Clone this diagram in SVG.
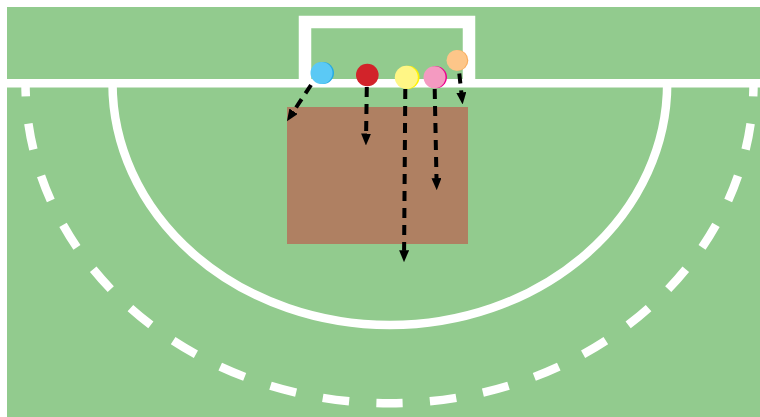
<svg xmlns="http://www.w3.org/2000/svg" width="760" height="417" viewBox="0 0 760 417">
  <style>
    .line { fill: none; stroke: #ffffff; }
    .conn { fill: none; stroke: #000000; stroke-width: 4; stroke-dasharray: 10 7; marker-end: url(#head); }
  </style>
  <defs>
    <marker id="head" viewBox="0 0 12 10" markerUnits="userSpaceOnUse" markerWidth="12" markerHeight="10" refX="0.5" refY="5" orient="auto">
      <path d="M0,0 L12,5 L0,10 z" fill="#000000"/>
    </marker>
  </defs>
  <rect width="760" height="417" fill="#ffffff"/>
  <g id="field">
    <rect x="7" y="7" width="753" height="410" fill="#92cb8e"/>
  </g>
  <g id="area">
    <rect x="287" y="107" width="181" height="137" fill="#af8062"/>
  </g>
  <g id="markings">
    <path id="dashed-arc" class="line" d="M25.5,83.3 A364,320 0 0 0 753.5,83.3" stroke-width="8.5" pathLength="2000" stroke-dasharray="49.3 50.7" stroke-dashoffset="24.65"/>
    <path id="solid-arc" class="line" d="M112.5,83.3 A277.3,241.7 0 0 0 667.2,83.3" stroke-width="8.5"/>
    <line id="goal-line" class="line" x1="7" y1="83.3" x2="760" y2="83.3" stroke-width="8.6"/>
    <path id="goal" class="line" d="M305,83 V22 H469 V83" stroke-width="12.5"/>
  </g>
  <g id="connectors">
    <path class="conn" d="M311,85 L293.3,111.7"/>
    <path class="conn" d="M366.8,87 L366.1,134"/>
    <path class="conn" d="M405.3,89 L404.1,250.7"/>
    <path class="conn" d="M434.7,89 L436.5,178.7"/>
    <path class="conn" d="M459.3,73.5 L461.4,93"/>
  </g>
  <g id="player-blue">
    <circle cx="323" cy="73" r="11" fill="#27aae1"/>
    <circle cx="321.5" cy="73" r="11" fill="#5bc9f5"/>
  </g>
  <g id="player-red">
    <circle cx="367.3" cy="75" r="11.3" fill="#d2232a"/>
  </g>
  <g id="player-yellow">
    <circle cx="408" cy="77.3" r="11.5" fill="#fff200"/>
    <circle cx="406.3" cy="77.3" r="11.5" fill="#fff685"/>
  </g>
  <g id="player-pink">
    <circle cx="436" cy="77.3" r="11" fill="#ec008c"/>
    <circle cx="434.5" cy="77.3" r="11" fill="#f49ac1"/>
  </g>
  <g id="player-orange">
    <circle cx="458" cy="60.4" r="10.3" fill="#f9ad5e"/>
    <circle cx="456.8" cy="60.4" r="10.3" fill="#fdc689"/>
  </g>
</svg>
